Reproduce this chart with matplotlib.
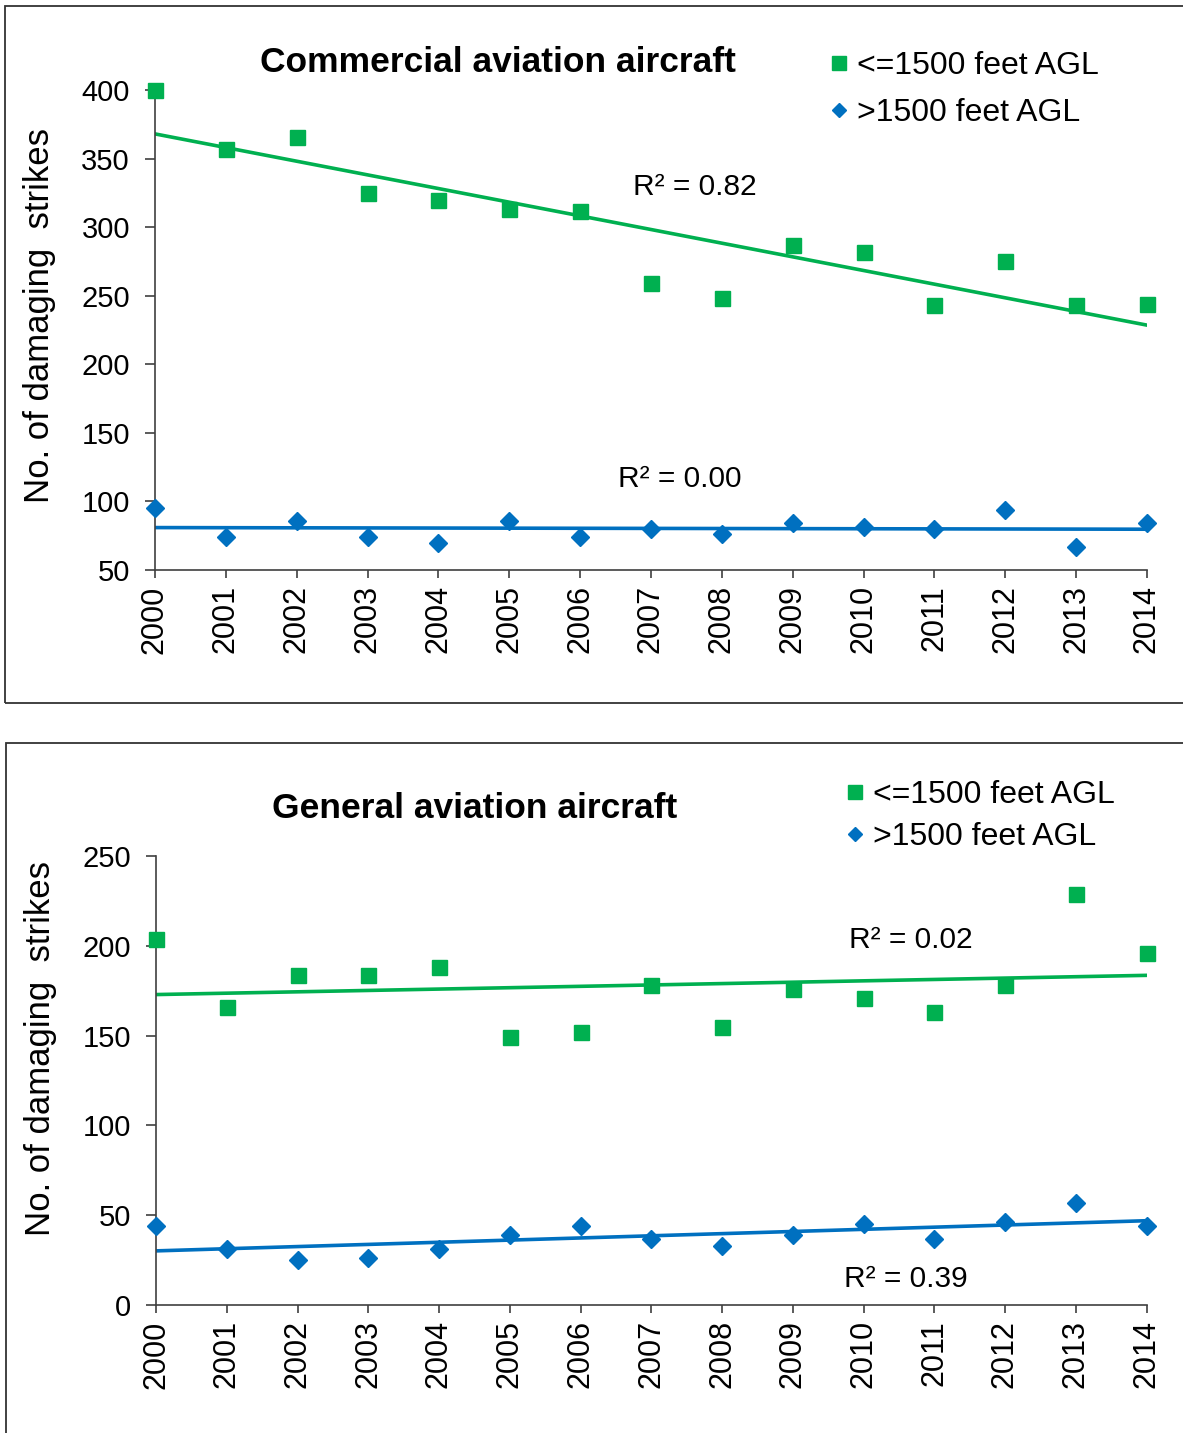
import matplotlib
matplotlib.use('Agg')
import matplotlib.pyplot as plt
from matplotlib.lines import Line2D
from matplotlib.patches import Rectangle
import numpy as np

plt.rcParams['font.family'] = ['Liberation Sans', 'DejaVu Sans']

# Data
years = list(range(2000, 2015))
year_labels = [str(y) for y in years]

commercial_low = [400, 357, 366, 325, 320, 313, 312, 259, 248, 287, 282, 243, 275, 243, 244]
commercial_high = [95, 74, 86, 74, 70, 86, 74, 80, 76, 84, 81, 80, 94, 67, 84]

general_low = [204, 166, 184, 184, 188, 149, 152, 178, 155, 176, 171, 163, 178, 229, 196]
general_high = [44, 31, 25, 26, 31, 39, 44, 37, 33, 39, 45, 37, 46, 57, 44]

legend_labels = ['<=1500 feet AGL', '>1500 feet AGL']
titles = ['Commercial aviation aircraft', 'General aviation aircraft']
r2_labels = [['R\u00b2 = 0.82', 'R\u00b2 = 0.00'], ['R\u00b2 = 0.02', 'R\u00b2 = 0.39']]

GREEN = '#00B050'
BLUE = '#0070C0'
W, H = 1183, 1433


def fx(px):
    return px / W


def fy(py):
    return 1 - py / H


def setup_axis(ax, ylim, yticks):
    ax.set_xlim(2000, 2014)
    ax.set_ylim(*ylim)
    ax.set_yticks(yticks)
    ax.set_xticks(years)
    ax.set_xticklabels(year_labels, rotation=90)
    for s in ['top', 'right']:
        ax.spines[s].set_visible(False)
    for s in ['left', 'bottom']:
        ax.spines[s].set_color('#404040')
        ax.spines[s].set_linewidth(1.2)
    ax.tick_params(axis='y', direction='out', length=7, width=1.2, color='#404040',
                   labelsize=21, pad=11)
    ax.tick_params(axis='x', direction='out', length=6, width=1.2, color='#404040',
                   labelsize=22, pad=5)


def plot_series(ax, low, high):
    x = np.array(years)
    for vals, color, marker, ms in [(low, GREEN, 's', 10.8), (high, BLUE, 'D', 8.7)]:
        ax.plot(x, vals, linestyle='none', marker=marker, markersize=ms,
                color=color, clip_on=False, zorder=3)
        # linear trend line
        k, b = np.polyfit(x, vals, 1)
        ax.plot(x, k * x + b, color=color, linewidth=2.6, zorder=2)


fig = plt.figure(figsize=(W / 100, H / 100), dpi=100)

# panel frames
fig.patches.append(Rectangle((fx(5), fy(703)), 1.0, fy(6) - fy(703), transform=fig.transFigure,
                             fill=False, edgecolor='#333333', linewidth=1.3))
fig.patches.append(Rectangle((fx(6), -0.1), 1.0, fy(743) + 0.1, transform=fig.transFigure,
                             fill=False, edgecolor='#333333', linewidth=1.3))

handles = [Line2D([], [], linestyle='none', marker='s', markersize=10, color=GREEN),
           Line2D([], [], linestyle='none', marker='D', markersize=7.5, color=BLUE)]

# Top panel - commercial
ax1 = fig.add_axes([fx(155), fy(570), fx(1147) - fx(155), fy(90) - fy(570)])
setup_axis(ax1, (50, 400), range(50, 401, 50))
plot_series(ax1, commercial_low, commercial_high)
ax1.set_ylabel('No. of damaging  strikes', fontsize=25)
ax1.yaxis.set_label_coords(-0.1, 0.53)
ax1.text(2006.74, 329, r2_labels[0][0], fontsize=21.5, va='center', ha='left')
ax1.text(2006.53, 116.7, r2_labels[0][1], fontsize=21.5, va='center', ha='left')
fig.text(fx(498), fy(63), titles[0], fontsize=25.5, fontweight='bold', ha='center', va='center')
fig.legend(handles, legend_labels, loc='center left', bbox_to_anchor=(fx(827), fy(89.5)),
           frameon=False, fontsize=23, handlelength=0.75, handletextpad=0.2,
           borderpad=0, borderaxespad=0, labelspacing=0.55)

# Bottom panel - general
ax2 = fig.add_axes([fx(156), fy(1305), fx(1146.5) - fx(156), fy(856) - fy(1305)])
setup_axis(ax2, (0, 250), range(0, 251, 50))
plot_series(ax2, general_low, general_high)
ax2.set_ylabel('No. of damaging  strikes', fontsize=25)
ax2.yaxis.set_label_coords(-0.1, 0.572)
ax2.text(2009.79, 203.4, r2_labels[1][0], fontsize=21.5, va='center', ha='left')
ax2.text(2009.72, 14.5, r2_labels[1][1], fontsize=21.5, va='center', ha='left')
fig.text(fx(475), fy(808), titles[1], fontsize=25.5, fontweight='bold', ha='center', va='center')
fig.legend(handles, legend_labels, loc='center left', bbox_to_anchor=(fx(843), fy(816)),
           frameon=False, fontsize=23, handlelength=0.75, handletextpad=0.2,
           borderpad=0, borderaxespad=0, labelspacing=0.38)

fig.savefig('out.png', dpi=100)
